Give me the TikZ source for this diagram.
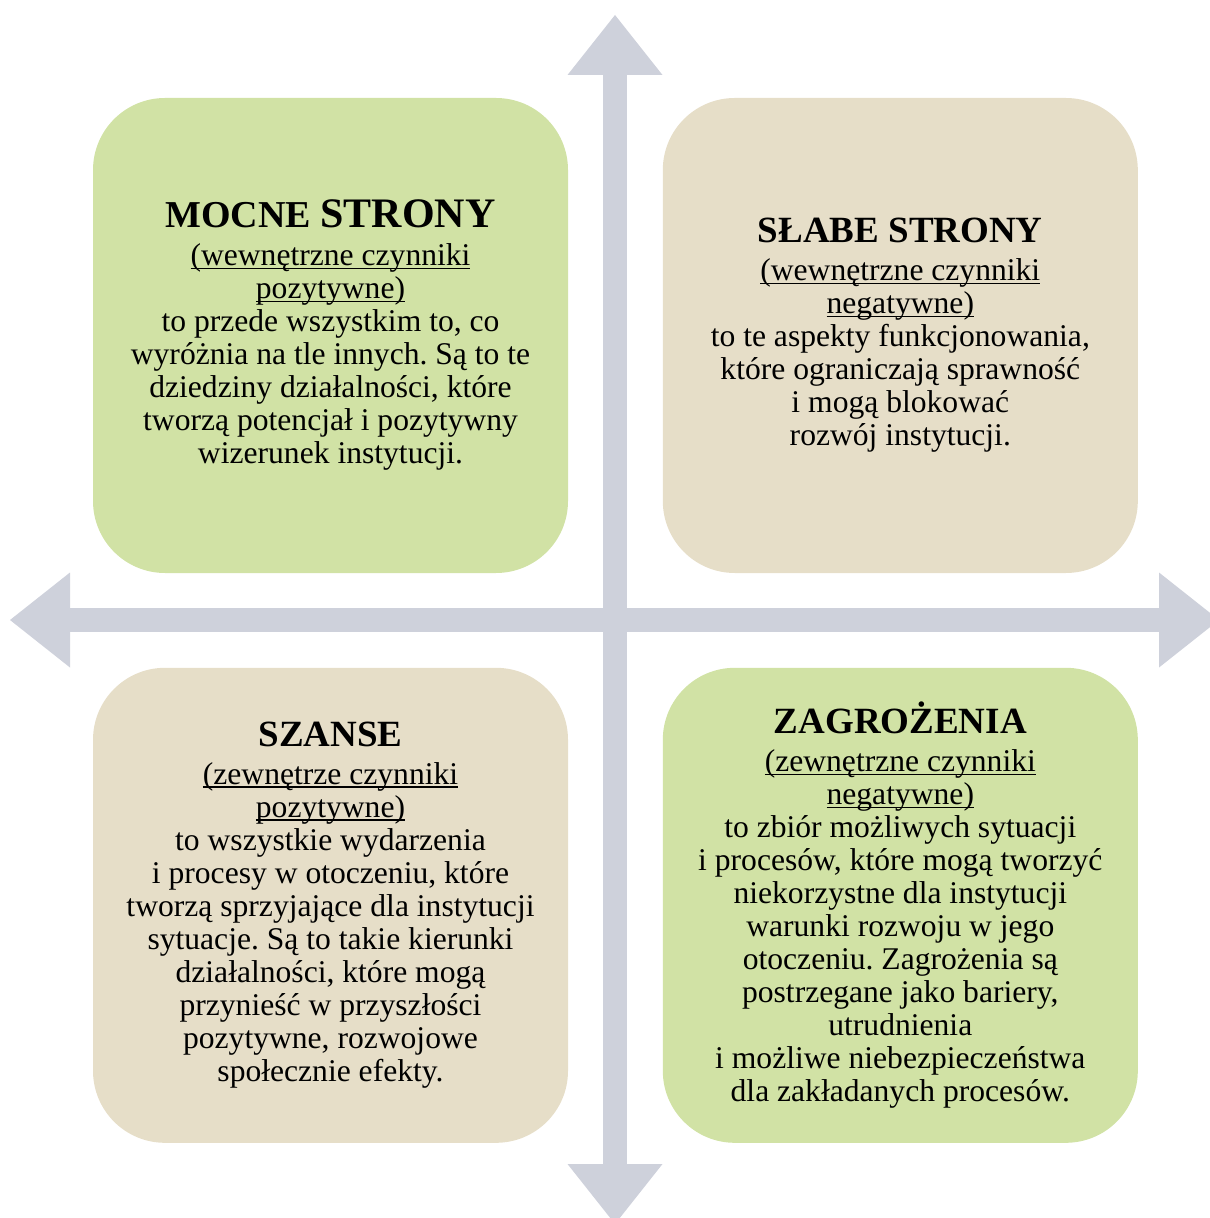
\documentclass[tikz,border=0pt]{standalone}
\usepackage{fontspec}
\setmainfont{Liberation Serif}
\frenchspacing
\definecolor{swotgreen}{RGB}{209,226,165}
\definecolor{swotbeige}{RGB}{230,222,200}
\definecolor{axisgray}{RGB}{206,209,219}
\usetikzlibrary{arrows.meta, positioning}
% underline close to the baseline, as in the original
\newcommand\swotul[1]{\setbox0\hbox{#1}\rlap{\rule[-1.7pt]{\wd0}{0.8pt}}\box0}

\begin{document}
\begin{tikzpicture}[
  x=0.5pt, y=-0.5pt,
  node distance=47pt and 47pt,
  quad/.style={rectangle, rounded corners=36pt, minimum width=237.5pt, minimum height=237.5pt,
               inner sep=0pt, align=center, font=\fontsize{15.8pt}{16.5pt}\selectfont},
  quadgreen/.style={quad, fill=swotgreen},
  quadbeige/.style={quad, fill=swotbeige},
  axis/.style={draw=axisgray, line width=12pt,
               {Triangle[width=47.5pt, length=30pt, line width=0pt]}-{Triangle[width=47.5pt, length=30pt, line width=0pt]}}
]
\useasboundingbox (0,0) rectangle (1209,1218);
% four quadrants
\node[quadgreen] (mocne) at (330.5,335.5) {%
  {\fontsize{19pt}{20pt}\selectfont\bfseries MOCNE {\fontsize{21pt}{20pt}\selectfont STRONY}}\\[2.5pt]
  \swotul{(wewnętrzne czynniki}\\
  \swotul{pozytywne)}\\
  to przede wszystkim to, co\\
  wyróżnia na tle innych. Są to te\\
  dziedziny działalności, które\\
  tworzą potencjał i pozytywny\\
  wizerunek instytucji.};
\node[quadbeige, right=of mocne] (slabe) {%
  {\fontsize{18.5pt}{20pt}\selectfont\bfseries SŁABE STRONY}\\[2.5pt]
  \swotul{(wewnętrzne czynniki}\\
  \swotul{negatywne)}\\
  to te aspekty funkcjonowania,\\
  które ograniczają sprawność\\
  i mogą blokować\\
  rozwój instytucji.};
\node[quadbeige, below=of mocne] (szanse) {%
  {\fontsize{18.5pt}{20pt}\selectfont\bfseries SZANSE}\\[2.5pt]
  \swotul{(zewnętrze czynniki}\\
  \swotul{pozytywne)}\\
  to wszystkie wydarzenia\\
  i procesy w otoczeniu, które\\
  tworzą sprzyjające dla instytucji\\
  sytuacje. Są to takie kierunki\\
  działalności, które mogą\\
  przynieść w przyszłości\\
  pozytywne, rozwojowe\\
  społecznie efekty.};
\node[quadgreen, below=of slabe] (zagrozenia) {%
  {\fontsize{18.5pt}{20pt}\selectfont\bfseries ZAGROŻENIA}\\[2.5pt]
  \swotul{(zewnętrzne czynniki}\\
  \swotul{negatywne)}\\
  to zbiór możliwych sytuacji\\
  i procesów, które mogą tworzyć\\
  niekorzystne dla instytucji\\
  warunki rozwoju w jego\\
  otoczeniu. Zagrożenia są\\
  postrzegane jako bariery,\\
  utrudnienia\\
  i możliwe niebezpieczeństwa\\
  dla zakładanych procesów.};
% axes
\coordinate (axtop) at (615,15);
\coordinate (axbot) at (615,1224);
\coordinate (axleft) at (10,620);
\coordinate (axright) at (1219,620);
\draw[axis] (axleft) -- (axright);
\draw[axis] (axtop) -- (axbot);
\end{tikzpicture}
\end{document}
